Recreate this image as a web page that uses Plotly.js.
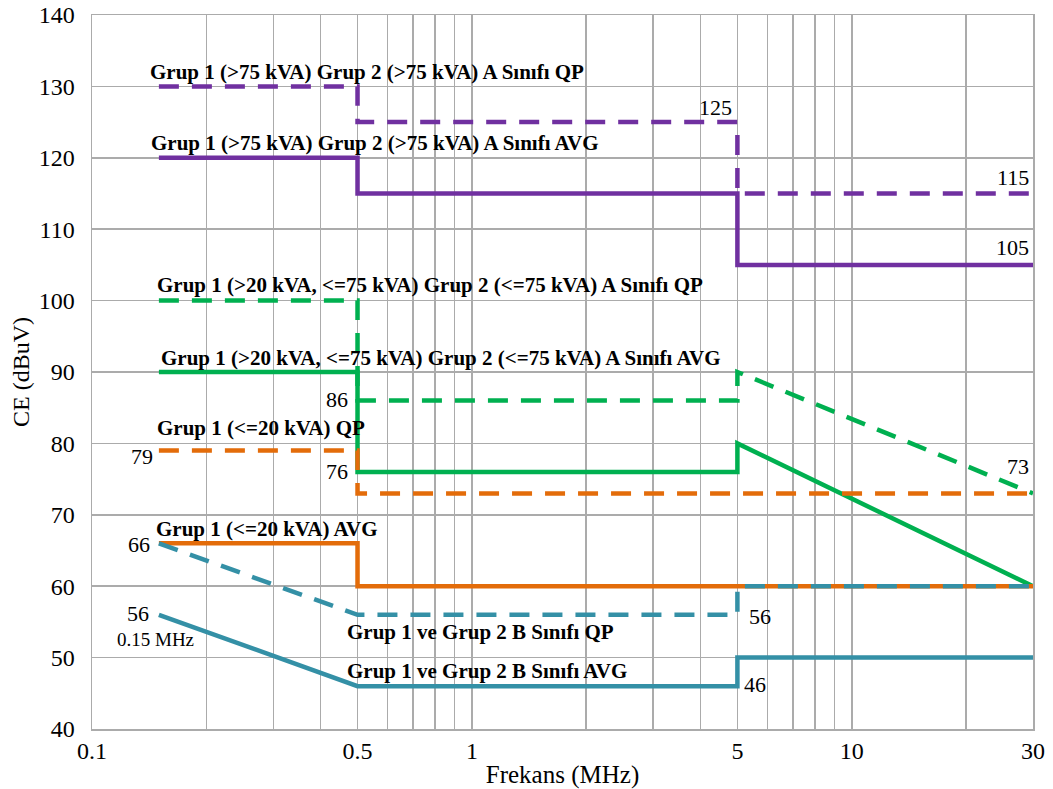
<!DOCTYPE html>
<html>
<head>
<meta charset="utf-8">
<script src="https://cdn.plot.ly/plotly-3.0.1.min.js"></script>
<style>html,body{margin:0;padding:0;background:#fff;}</style>
</head>
<body>
<div id="chart" style="width:1053px;height:789px;"></div>
<script>
// ---- Data (frequency in MHz, level in dBuV) ----
const purpleQPFreq = [0.15, 0.5, 0.5, 5, 5, 30];
const purpleQPVal  = [130, 130, 125, 125, 115, 115];
const purpleAVGFreq = [0.15, 0.5, 0.5, 5, 5, 30];
const purpleAVGVal  = [120, 120, 115, 115, 105, 105];

const greenQPFreq = [0.15, 0.5, 0.5, 5, 5, 30];
const greenQPVal  = [100, 100, 86, 86, 90, 73];
const greenAVGFreq = [0.15, 0.5, 0.5, 5, 5, 30];
const greenAVGVal  = [90, 90, 76, 76, 80, 60];

const orangeQPFreq = [0.15, 0.5, 0.5, 30];
const orangeQPVal  = [79, 79, 73, 73];
const orangeAVGFreq = [0.15, 0.5, 0.5, 30];
const orangeAVGVal  = [66, 66, 60, 60];

const tealQPFreq = [0.15, 0.5, 5, 5, 30];
const tealQPVal  = [66, 56, 56, 60, 60];
const tealAVGFreq = [0.15, 0.5, 5, 5, 30];
const tealAVGVal  = [56, 46, 46, 50, 50];

const xTickVals = [0.1, 0.2, 0.3, 0.4, 0.5, 0.6, 0.7, 0.8, 0.9, 1, 2, 3, 4, 5, 6, 7, 8, 9, 10, 20, 30];
const xTickText = ['0.1', '', '', '', '0.5', '', '', '', '', '1', '', '', '', '5', '', '', '', '', '10', '', '30'];

const PURPLE = '#7030A0', GREEN = '#00B050', ORANGE = '#E36C0A', TEAL = '#3490A6';
const DASH = '20px,13px';
const FONT = '"Times New Roman", "Liberation Serif", serif';
const GRID = '#ababab';

function tr(x, y, color, dashed) {
  return {x: x, y: y, type: 'scatter', mode: 'lines',
    line: {color: color, width: 4.5, dash: dashed ? DASH : 'solid'},
    hoverinfo: 'skip'};
}

const traces = [
  tr(greenAVGFreq, greenAVGVal, GREEN, false),
  tr(greenQPFreq, greenQPVal, GREEN, true),
  tr(purpleAVGFreq, purpleAVGVal, PURPLE, false),
  tr(purpleQPFreq, purpleQPVal, PURPLE, true),
  tr(orangeAVGFreq, orangeAVGVal, ORANGE, false),
  tr(orangeQPFreq, orangeQPVal, ORANGE, true),
  tr(tealAVGFreq, tealAVGVal, TEAL, false),
  tr(tealQPFreq, tealQPVal, TEAL, true)
];

function lbl(text, x, y, anchor, size, bold) {
  return {text: text, xref: 'x', yref: 'y', x: x, y: y,
    xanchor: anchor, yanchor: 'middle', showarrow: false,
    font: {family: FONT, size: size, color: '#000', weight: bold ? 'bold' : 'normal'}};
}

const annotations = [
  lbl('Grup 1 (&gt;75 kVA) Grup 2 (&gt;75 kVA) A Sınıfı QP', -0.853, 132.0, 'left', 21, true),
  lbl('Grup 1 (&gt;75 kVA) Grup 2 (&gt;75 kVA) A Sınıfı AVG', -0.851, 122.1, 'left', 21, true),
  lbl('Grup 1 (&gt;20 kVA, &lt;=75 kVA) Grup 2 (&lt;=75 kVA) A Sınıfı QP', -0.835, 102.2, 'left', 21, true),
  lbl('Grup 1 (&gt;20 kVA, &lt;=75 kVA) Grup 2 (&lt;=75 kVA) A Sınıfı AVG', -0.824, 92.0, 'left', 21, true),
  lbl('Grup 1 (&lt;=20 kVA) QP', -0.835, 82.2, 'left', 21, true),
  lbl('Grup 1 (&lt;=20 kVA) AVG', -0.838, 68.0, 'left', 21, true),
  lbl('Grup 1 ve Grup 2 B Sınıfı QP', -0.335, 53.6, 'left', 21, true),
  lbl('Grup 1 ve Grup 2 B Sınıfı AVG', -0.335, 48.1, 'left', 21, true),
  lbl('125', 0.691, 127.0, 'right', 22, false),
  lbl('115', 1.472, 117.3, 'right', 22, false),
  lbl('105', 1.472, 107.4, 'right', 22, false),
  lbl('86', -0.320, 86.1, 'right', 22, false),
  lbl('76', -0.320, 76.0, 'right', 22, false),
  lbl('79', -0.835, 78.1, 'right', 22, false),
  lbl('73', 1.472, 76.7, 'right', 22, false),
  lbl('66', -0.841, 65.8, 'right', 22, false),
  lbl('56', -0.846, 56.2, 'right', 22, false),
  lbl('0.15 MHz', -0.834, 52.6, 'center', 19, false),
  lbl('56', 0.725, 55.7, 'left', 22, false),
  lbl('46', 0.712, 46.3, 'left', 22, false)
];

const layout = {
  width: 1053, height: 789,
  margin: {l: 92, r: 20, t: 15, b: 60, pad: 0},
  paper_bgcolor: '#fff', plot_bgcolor: '#fff',
  showlegend: false, hovermode: false,
  font: {family: FONT, size: 24, color: '#000'},
  xaxis: {
    type: 'log', range: [-1, Math.log10(30)],
    tickmode: 'array', tickvals: xTickVals, ticktext: xTickText,
    showgrid: true, gridcolor: GRID, gridwidth: 1.5,
    showline: true, linecolor: GRID, linewidth: 1.5, mirror: true,
    ticks: '',
    zeroline: false,
    tickfont: {family: FONT, size: 24, color: '#000'},
    title: {text: 'Frekans (MHz)', font: {family: FONT, size: 25, color: '#000'}, standoff: 2}
  },
  yaxis: {
    range: [40, 140], tickmode: 'linear', tick0: 40, dtick: 10,
    showgrid: true, gridcolor: GRID, gridwidth: 1.5,
    showline: true, linecolor: GRID, linewidth: 1.5, mirror: true,
    ticks: 'outside', ticklen: 11, tickcolor: 'rgba(0,0,0,0)',
    zeroline: false,
    tickfont: {family: FONT, size: 24, color: '#000'},
    title: {text: 'CE (dBuV)', font: {family: FONT, size: 24, color: '#000'}, standoff: 2}
  },
  annotations: annotations
};

Plotly.newPlot('chart', traces, layout, {displayModeBar: false, staticPlot: true});
</script>
</body>
</html>
